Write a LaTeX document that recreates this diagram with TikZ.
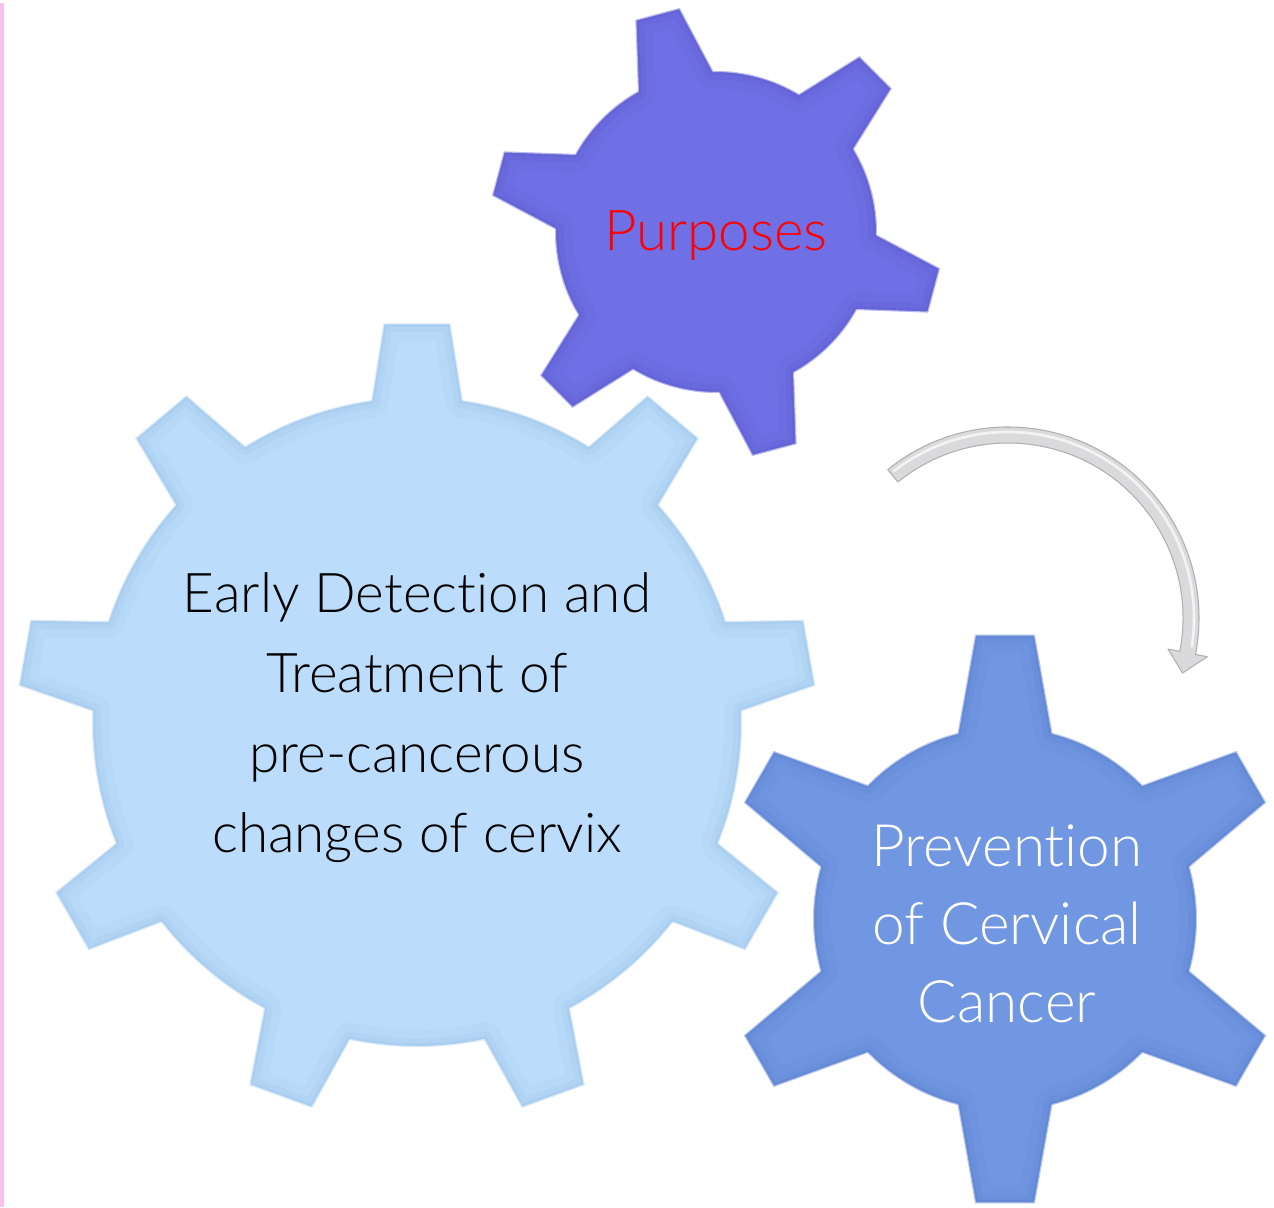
\documentclass[tikz,border=0pt]{standalone}
\usepackage{fontspec}
\IfFontExistsTF{Lato Light}
  {\setmainfont{Lato Light}[Ligatures=NoCommon]
   \newcommand{\sizeA}{31.2}\newcommand{\sizeB}{32.1}\newcommand{\sizeC}{33.3}}
  {\setmainfont{TeX Gyre Heros}
   \newcommand{\sizeA}{30}\newcommand{\sizeB}{30}\newcommand{\sizeC}{32.5}}
\usetikzlibrary{calc}

\definecolor{pinkbar}{RGB}{249,192,236}
\definecolor{paleblue}{RGB}{187,221,251}
\definecolor{paleedge}{RGB}{140,180,220}
\definecolor{violetfill}{RGB}{112,112,230}
\definecolor{violetedge}{RGB}{80,80,190}
\definecolor{midblue}{RGB}{113,150,226}
\definecolor{midedge}{RGB}{80,115,195}
\definecolor{arrowgray}{RGB}{218,218,220}
\definecolor{arrowedge}{RGB}{175,175,180}

% cog outline around the origin:
% #1 teeth, #2 first tooth angle, #3 body radius, #4 tip radius,
% #5 half-angle of a tooth at its root, #6 half-angle at its tip
\newcommand{\cogpath}[6]{%
  ({#2-#5}:#3)
  \foreach \k in {1,...,#1}{
    -- ({#2+(\k-1)*360/#1-#6}:#4)
    -- ({#2+(\k-1)*360/#1+#6}:#4)
    -- ({#2+(\k-1)*360/#1+#5}:#3)
    arc[start angle={#2+(\k-1)*360/#1+#5}, end angle={#2+\k*360/#1-#5}, radius=#3]
  } -- cycle}

% filled cog with a soft inner bevel and a pale rim
% #1 centre, #2 fill, #3 bevel colour, #4..#9 cog geometry
\newcommand{\cog}[9]{%
  \fill[#2, shift={#1}] \cogpath{#4}{#5}{#6}{#7}{#8}{#9};
  \begin{scope}
    \clip[shift={#1}] \cogpath{#4}{#5}{#6}{#7}{#8}{#9};
    \draw[#3, opacity=.08, line width=20pt, line join=round, shift={#1}] \cogpath{#4}{#5}{#6}{#7}{#8}{#9};
    \draw[#3, opacity=.12, line width=10pt, line join=round, shift={#1}] \cogpath{#4}{#5}{#6}{#7}{#8}{#9};
    \draw[#3, opacity=.18, line width=4pt, line join=round, shift={#1}] \cogpath{#4}{#5}{#6}{#7}{#8}{#9};
  \end{scope}
  \draw[white, opacity=.55, line width=1.2pt, line join=round, shift={#1}] \cogpath{#4}{#5}{#6}{#7}{#8}{#9};
}

\tikzset{
  label/.style={inner sep=0pt, align=center,
    font=\fontsize{\sizeA}{45.5}\selectfont},
  titlelabel/.style={inner sep=0pt, align=center,
    font=\fontsize{\sizeB}{45.5}\selectfont},
  biglabel/.style={inner sep=0pt, align=center,
    font=\fontsize{\sizeC}{44.5}\selectfont},
}

\begin{document}
\begin{tikzpicture}[x=0.02cm, y=0.02cm]
  \useasboundingbox (0,0) rectangle (1274,1207);
  \fill[white] (0,0) rectangle (1274,1207);
  \fill[pinkbar] (0,0) rectangle (4,1204);

  % the three cogs
  \cog{(417,485)}{paleblue}{paleedge}{9}{90}{325}{400}{8.1}{4.8}
  \cog{(716,975)}{violetfill}{violetedge}{6}{105}{161}{227}{14}{5.8}
  \cog{(1005,288)}{midblue}{midedge}{6}{90}{192}{286}{14.3}{6}

  % curved arrow towards the lower cog
  \fill[arrowgray, draw=arrowedge, line width=0.6pt, line join=round, shift={(1008,589)}]
    (129:191) arc[start angle=129, end angle=-11, radius=191]
    -- (-11:203) -- (-17.5:183) -- (-11:163) -- (-11:175)
    arc[start angle=-11, end angle=129, radius=175] -- cycle;
  \draw[white, opacity=.7, line width=1.5pt, shift={(1008,589)}]
    (128:186) arc[start angle=128, end angle=-9, radius=186];

  % labels
  \node[label, text=black] (early) at (417,489)
    {Early Detection and\\Treatment of\\pre-cancerous\\changes of cervix};
  \node[titlelabel, text=red] (purposes) at (716,971) {Purposes};
  \node[biglabel, text=white] (prevention) at (1007,283)
    {Prevention\\of Cervical\\Cancer};
\end{tikzpicture}
\end{document}
